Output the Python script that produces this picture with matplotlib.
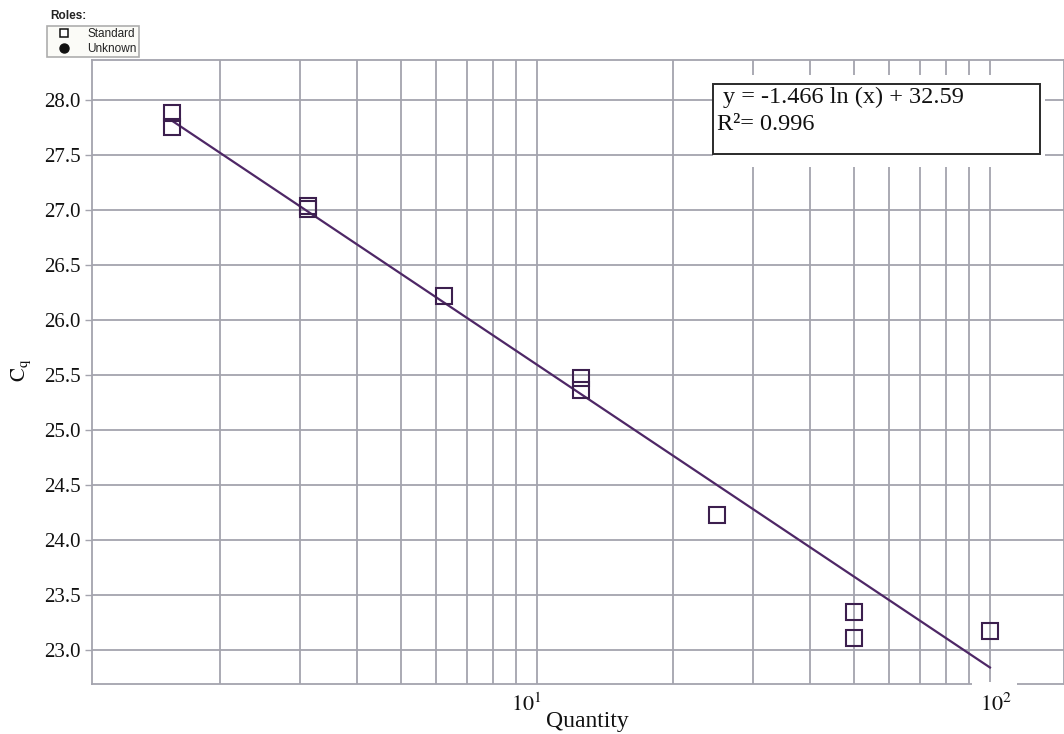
import matplotlib
matplotlib.use("Agg")
import matplotlib.pyplot as plt
import matplotlib.transforms as mtransforms
from matplotlib.lines import Line2D
from matplotlib.patches import Rectangle
from matplotlib.ticker import FixedLocator, LogLocator, NullFormatter

# Standard curve: quantity vs Cq
quantity = [1.5625, 1.5625, 3.125, 3.125, 6.25, 12.5, 12.5, 25, 50, 50, 100]
cq = [27.88, 27.75, 27.03, 27.01, 26.22, 25.47, 25.36, 24.23, 23.34, 23.11, 23.17]

# Trend line as drawn by the instrument software
fit_x = [1.5625, 100]
fit_y = [27.81, 22.84]

equation = "y = -1.466 ln (x) + 32.59"
r_squared = "R\u00b2= 0.996"

y_ticks = [23.0, 23.5, 24.0, 24.5, 25.0, 25.5, 26.0, 26.5, 27.0, 27.5, 28.0]
x_ticks = [10, 100]
x_tick_labels = [r"$10^{1}$", r"$10^{2}$"]

serif = "Liberation Serif"
grid_col = "#a4a4ae"
mark_col = "#3c1f4e"
line_col = "#4e2766"

plt.rcParams["mathtext.fontset"] = "stix"

fig = plt.figure(figsize=(10.64, 7.34), dpi=100)
ax = fig.add_axes([92 / 1064, 50 / 734, 972 / 1064, 624 / 734])

ax.plot(fit_x, fit_y, color=line_col, lw=1.6, zorder=3)
ax.plot(quantity, cq, ls="none", marker="s", ms=11, mfc="none",
        mec=mark_col, mew=1.5, zorder=4)

ax.set_xscale("log")
ax.set_xlim(1.042, 145.7)
ax.set_ylim(22.69, 28.36)

ax.xaxis.set_major_locator(FixedLocator(x_ticks))
ax.set_xticklabels(x_tick_labels)
ax.xaxis.set_minor_locator(LogLocator(base=10, subs=range(2, 10)))
ax.xaxis.set_minor_formatter(NullFormatter())
ax.set_yticks(y_ticks)
ax.set_yticklabels([f"{v:.1f}" for v in y_ticks])

ax.set_axisbelow(True)
ax.grid(True, which="both", axis="x", color=grid_col, lw=1.3)
ax.grid(True, which="major", axis="y", color=grid_col, lw=1.3)

for s in ax.spines.values():
    s.set_color(grid_col)
    s.set_linewidth(1.3)

ax.tick_params(axis="x", which="both", length=0, pad=6)
ax.tick_params(axis="y", length=5, width=1, color=grid_col, pad=3)
for lab in ax.get_yticklabels():
    lab.set_fontfamily(serif)
    lab.set_fontsize(15)
    lab.set_color("#111111")
# decade labels sit a little off their gridlines
for lab, dx in zip(ax.get_xticklabels(), [-11, 6]):
    lab.set_fontsize(16)
    lab.set_color("#111111")
    lab.set_transform(lab.get_transform()
                      + mtransforms.ScaledTranslation(dx / 100, 0, fig.dpi_scale_trans))

ax.set_xlabel("Quantity", fontfamily=serif, fontsize=17, color="#111111")
ax.xaxis.set_label_coords(0.51, -0.044)
ax.set_ylabel(r"$\mathrm{C_q}$", fontsize=15, color="#111111")
ax.yaxis.set_label_coords(-0.061, 0.502)

# White gap behind the equation box, then the framed box itself
ax.add_patch(Rectangle((0.639, 0.8285), 0.3416, 0.1474, transform=ax.transAxes,
                       facecolor="white", edgecolor="none", zorder=2))
ax.add_patch(Rectangle((0.639, 0.849), 0.3364, 0.112, transform=ax.transAxes,
                       facecolor="white", edgecolor="#2a2a2a", lw=1.4, zorder=2.2))
ax.text(0.649, 0.931, equation, transform=ax.transAxes, fontfamily=serif,
        fontsize=17.5, va="baseline", ha="left", color="#111111", zorder=3)
ax.text(0.643, 0.888, r_squared, transform=ax.transAxes, fontfamily=serif,
        fontsize=17.5, va="baseline", ha="left", color="#111111", zorder=3)

# Break in the bottom axis around the 10^2 label
trans = mtransforms.blended_transform_factory(ax.transData, ax.transAxes)
ax.add_patch(Rectangle((91.3, -0.008), 23.4, 0.011, transform=trans,
                       facecolor="white", edgecolor="none", clip_on=False, zorder=3))

# Roles legend
fig.text(50 / 1064, 1 - 16 / 734, "Roles:", fontsize=8.5, fontweight="bold",
         fontfamily="Liberation Sans", va="center", ha="left", color="#222222")
handles = [
    Line2D([], [], ls="none", marker="s", ms=6, mfc="white", mec="#111111", mew=1.1),
    Line2D([], [], ls="none", marker="o", ms=6.5, mfc="#111111", mec="#111111"),
]
leg = fig.legend(handles, ["Standard", "Unknown"], loc="upper left",
                 bbox_to_anchor=(47 / 1064, 1 - 26 / 734), borderaxespad=0,
                 prop={"family": "Liberation Sans", "size": 8.5},
                 frameon=True, fancybox=False, handlelength=2.4,
                 handletextpad=0.8, labelspacing=0.2, borderpad=0.2)
leg.get_frame().set_edgecolor("#9a9a9a")
leg.get_frame().set_facecolor("#fbfbf6")
leg.get_frame().set_linewidth(1.2)
for t in leg.get_texts():
    t.set_color("#222222")

fig.savefig("out.png", dpi=100)
